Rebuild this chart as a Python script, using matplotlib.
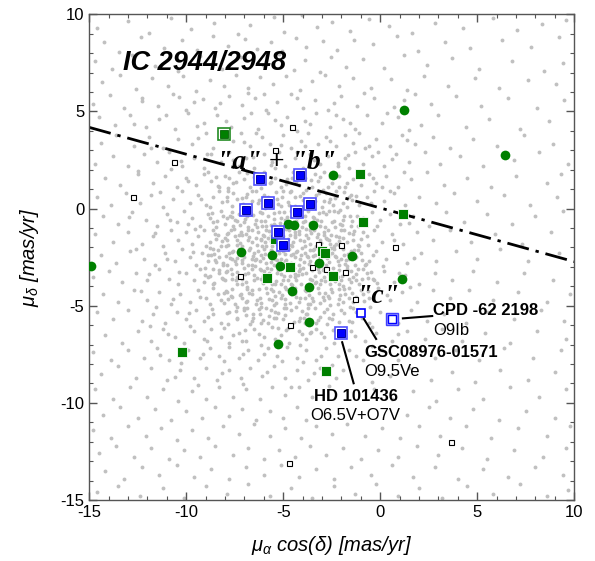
import matplotlib
matplotlib.use("Agg")
import matplotlib.pyplot as plt
from matplotlib.ticker import MultipleLocator

plt.rcParams['font.family'] = ['Liberation Sans', 'DejaVu Sans']
plt.rcParams['axes.unicode_minus'] = False
plt.rcParams['mathtext.fontset'] = 'custom'
plt.rcParams['mathtext.rm'] = 'Liberation Sans'
plt.rcParams['mathtext.it'] = 'Liberation Sans:italic'

# field stars (grey dots)
gray_halo = [
    (-14.6,9.3),(-13.0,9.65),(-11.9,9.05),(-10.8,9.8),(-9.75,9.25),(-8.55,9.55),(-7.35,9.0),(-6.7,9.45),(-5.45,9.85),(-4.95,9.1),(-4.05,9.95),(-3.25,9.35),(-2.5,9.6),(-1.55,9.15),(-0.6,9.75),(0.45,9.4),(1.65,9.05),(2.85,9.55),(4.25,9.3),(5.8,9.8),(7.05,9.2),(8.35,9.5),(9.6,9.7),
    (-14.25,8.6),(-13.45,8.05),(-12.35,8.85),(-11.15,8.25),(-10.2,8.7),(-9.45,8.15),(-8.6,8.9),(-7.85,8.35),(-6.95,8.75),(-6.35,8.2),(-5.65,8.6),(-5.05,8.1),(-4.35,8.8),(-3.85,8.3),(-2.95,8.65),(-2.25,8.15),(-1.35,8.7),(-0.35,8.45),(0.85,8.9),(1.95,8.1),(3.35,8.6),(4.65,8.25),(6.3,8.7),(7.75,8.3),(9.2,8.85),
    (-14.7,7.6),(-13.85,7.2),(-12.8,7.9),(-11.6,7.35),(-10.45,7.1),(-9.3,7.85),(-8.15,7.2),(-7.2,7.8),(-6.05,7.4),(-5.2,7.95),(-4.45,7.15),(-3.9,7.65),(-3.1,7.05),(-2.55,7.8),(-1.75,7.3),(-0.9,7.7),(0.2,7.25),(1.25,7.9),(2.4,7.4),(3.7,7.75),(5.1,7.2),(6.8,7.6),(8.45,7.1),(9.4,7.5),
    (-14.35,6.5),(-13.4,6.9),(-12.6,6.15),(-11.75,6.7),(-10.95,6.3),(-10.15,6.85),(-9.5,6.05),(-8.8,6.6),(-8.05,6.3),(-7.45,6.9),(-6.8,6.2),(-6.2,6.75),(-5.55,6.4),(-4.85,6.8),(-4.15,6.1),(-3.5,6.55),(-2.85,6.9),(-2.1,6.3),(-1.4,6.7),(-0.5,6.2),(0.55,6.65),(1.4,6.1),(2.25,6.8),(3.5,6.3),(4.9,6.7),(6.1,6.2),(7.6,6.6),(9.05,6.4),
    (-14.8,5.4),(-13.95,5.85),(-13.2,5.2),(-12.3,5.7),(-11.45,5.3),(-10.7,5.9),(-10.0,5.1),(-9.6,5.5),(-9.15,5.65),(-8.5,5.2),(-7.8,5.8),(-7.1,5.35),(-6.45,5.7),(-6.0,5.9),(-5.9,5.1),(-5.3,5.5),(-4.6,5.9),(-4.0,5.2),(-3.35,5.6),(-2.7,5.1),(-2.0,5.8),(-1.2,5.3),(-0.3,5.7),(0.7,5.25),(1.8,5.9),(2.6,5.4),(3.9,5.8),(5.2,5.3),(6.6,5.7),(8.1,5.2),(9.5,5.6),
    (-14.5,4.7),(-13.65,4.3),(-12.9,4.8),(-12.1,4.2),(-11.4,4.6),(-10.6,4.1),(-9.9,4.9),(-9.1,4.4),(-8.4,4.8),(-7.7,4.2),(-7.0,4.65),(-6.3,4.1),(-5.8,4.9),(-5.1,4.3),(-4.8,4.7),(-4.3,4.0),(-3.9,4.5),(-3.3,4.9),(-2.6,4.2),(-2.3,4.8),(-1.9,4.6),(-1.3,4.1),(-0.7,4.8),(0.1,4.4),(0.9,4.7),(2.1,4.3),(3.0,4.8),(4.4,4.2),(5.6,4.6),(7.2,4.1),(8.7,4.5),
    (-14.4,3.4),(-13.6,3.8),(-12.7,3.2),(-11.9,3.7),(-11.2,3.1),(-10.4,3.6),(-9.7,3.3),(-9.0,3.9),(-8.6,3.1),(-7.6,3.5),(-7.2,3.9),(-6.7,3.2),(-6.4,3.9),(-6.1,3.7),(-5.7,3.3),(-5.0,3.8),(-4.6,3.1),(-4.1,3.5),(-3.9,3.2),(-3.7,3.9),(-3.2,3.3),(-2.8,3.7),(-2.3,3.2),(-1.8,3.8),(-1.4,3.4),(-1.1,3.9),(-0.8,3.1),(-0.2,3.6),(0.5,3.2),(1.1,3.8),(1.8,3.3),(2.7,3.7),(3.6,3.1),(4.8,3.6),(6.0,3.2),(7.4,3.8),(8.9,3.3),
    (-14.7,2.3),(-13.8,2.7),(-13.0,2.2),(-12.2,2.8),(-11.5,2.4),(-10.9,2.9),(-10.2,2.2),(-9.6,2.6),(-9.1,2.1),(-8.7,2.8),(-8.2,2.4),(-7.8,2.9),(-7.6,2.5),(-7.3,2.2),(-6.9,2.6),(-6.5,2.1),(-6.0,2.8),(-5.6,2.4),(-5.4,2.1),(-5.2,2.9),(-4.9,2.2),(-4.4,2.6),(-4.0,2.1),(-3.6,2.8),(-3.4,2.5),(-3.1,2.3),(-2.7,2.7),(-2.2,2.2),(-1.8,2.6),(-1.6,2.1),(-1.3,2.9),(-0.9,2.3),(-0.4,2.7),(-0.1,2.9),(0.2,2.2),(0.8,2.8),(1.5,2.4),(2.3,2.9),(3.1,2.3),(4.1,2.7),(5.3,2.2),(6.9,2.5),(8.2,2.9),(9.7,2.3),
    (-14.2,1.6),(-13.4,1.2),(-12.5,1.8),(-11.7,1.3),(-11.1,1.7),(-10.5,1.1),(-10.0,1.6),(-9.5,1.2),(-9.1,1.8),(-8.9,1.9),(-8.7,1.4),(-8.3,1.1),(-8.0,1.7),(-7.8,1.6),(-7.6,1.3),(-7.3,1.9),(-7.0,1.5),(-6.7,1.1),(-6.4,1.7),(-6.2,1.3),(-6.0,1.9),(-5.7,1.3),(-5.4,1.6),(-5.1,1.1),(-4.8,1.5),(-4.5,1.9),(-4.2,1.2),(-4.0,1.9),(-3.9,1.6),(-3.5,1.1),(-3.2,1.4),(-2.9,1.9),(-2.7,1.1),(-2.5,1.3),(-2.1,1.7),(-1.8,1.1),(-1.4,1.5),(-1.2,1.9),(-1.0,1.2),(-0.6,1.8),(-0.2,1.3),(0.1,1.1),(0.3,1.7),(0.9,1.1),(1.6,1.5),(2.4,1.9),(3.3,1.2),(4.5,1.6),(5.7,1.1),(7.0,1.7),(8.6,1.3),(9.3,1.8),
    (-14.6,0.6),(-13.9,0.2),(-13.1,0.8),(-12.4,0.3),(-11.8,0.7),(-11.2,0.1),(-10.7,0.5),(-10.2,0.9),(-9.8,0.3),(-9.4,0.7),(-9.0,0.2),(-8.8,0.1),(-8.6,0.6),(-8.3,0.9),(-7.9,0.4),(-7.6,0.8),(-7.4,0.5),(-7.2,0.2),(-6.9,0.6),(-6.6,0.9),(-6.3,0.3),(-6.0,0.7),(-5.8,0.4),(-5.6,0.1),(-5.3,0.5),(-5.0,0.9),(-4.7,0.2),(-4.4,0.6),(-4.2,0.1),(-4.0,0.8),(-3.7,0.3),(-3.3,0.7),(-3.0,0.1),(-2.8,0.8),(-2.6,0.5),(-2.3,0.9),(-1.9,0.3),(-1.7,0.1),(-1.5,0.7),(-1.1,0.2),(-0.7,0.6),(-0.5,0.3),(-0.3,0.9),(0.2,0.4),(0.7,0.8),(1.3,0.2),(2.0,0.6),(2.9,0.3),(3.8,0.8),(5.0,0.4),(6.4,0.7),(7.7,0.2),(9.1,0.6),
    (-14.3,-0.4),(-13.5,-0.8),(-12.8,-0.2),(-12.1,-0.6),(-11.5,-0.9),(-11.0,-0.3),(-10.5,-0.7),(-10.1,-0.1),(-9.9,-0.8),(-9.7,-0.5),(-9.3,-0.9),(-8.9,-0.3),(-8.6,-0.7),(-8.2,-0.1),(-8.0,-0.8),(-7.9,-0.5),(-7.6,-0.9),(-7.5,-0.6),(-7.3,-0.3),(-7.0,-0.7),(-6.9,-0.1),(-6.7,-0.2),(-6.4,-0.6),(-6.2,-0.2),(-6.1,-0.9),(-5.8,-0.4),(-5.5,-0.8),(-5.2,-0.2),(-5.1,-0.5),(-4.9,-0.6),(-4.6,-0.9),(-4.3,-0.3),(-4.0,-0.7),(-3.9,-0.4),(-3.7,-0.1),(-3.4,-0.5),(-3.1,-0.9),(-2.8,-0.3),(-2.5,-0.7),(-2.4,-0.1),(-2.2,-0.2),(-1.9,-0.6),(-1.5,-0.9),(-1.2,-0.4),(-0.9,-0.5),(-0.8,-0.8),(-0.4,-0.2),(0.0,-0.6),(0.5,-0.3),(1.0,-0.8),(1.7,-0.4),(2.5,-0.9),(3.4,-0.2),(4.3,-0.7),(5.5,-0.3),(6.8,-0.8),(8.0,-0.4),(9.4,-0.1),
    (-14.7,-1.3),(-13.8,-1.7),(-13.0,-1.2),(-12.3,-1.8),(-11.7,-1.4),(-11.2,-1.9),(-10.8,-1.1),(-10.4,-1.6),(-10.0,-1.2),(-9.7,-1.8),(-9.4,-1.4),(-9.1,-1.1),(-9.0,-1.9),(-8.8,-1.7),(-8.5,-1.3),(-8.2,-1.9),(-8.0,-1.5),(-7.9,-1.3),(-7.7,-1.1),(-7.5,-1.4),(-7.4,-1.6),(-7.1,-1.9),(-6.9,-1.3),(-6.8,-1.1),(-6.6,-1.7),(-6.4,-1.5),(-6.3,-1.2),(-6.1,-1.9),(-6.0,-1.4),(-5.8,-1.5),(-5.6,-1.9),(-5.5,-1.1),(-5.3,-1.8),(-5.0,-1.4),(-4.9,-1.9),(-4.7,-1.1),(-4.5,-1.7),(-4.4,-1.2),(-4.2,-1.3),(-3.9,-1.9),(-3.7,-1.5),(-3.6,-1.8),(-3.4,-1.1),(-3.2,-1.3),(-3.1,-1.6),(-2.9,-1.2),(-2.7,-1.1),(-2.6,-1.8),(-2.4,-1.9),(-2.3,-1.4),(-2.0,-1.1),(-1.9,-1.5),(-1.7,-1.7),(-1.4,-1.3),(-1.1,-1.9),(-0.9,-1.2),(-0.7,-1.4),(-0.3,-1.1),(0.1,-1.7),(0.6,-1.3),(1.2,-1.8),(1.9,-1.2),(2.7,-1.6),(3.6,-1.1),(4.7,-1.7),(5.9,-1.3),(7.3,-1.8),(8.8,-1.2),
    (-14.4,-2.4),(-13.6,-2.8),(-12.9,-2.2),(-12.2,-2.6),(-11.6,-2.9),(-11.1,-2.3),(-10.6,-2.7),(-10.2,-2.1),(-9.8,-2.5),(-9.5,-2.9),(-9.2,-2.3),(-8.9,-2.7),(-8.7,-2.4),(-8.6,-2.1),(-8.3,-2.5),(-8.1,-2.9),(-7.8,-2.3),(-7.6,-2.2),(-7.5,-2.7),(-7.3,-2.1),(-7.1,-2.8),(-7.0,-2.5),(-6.8,-2.9),(-6.6,-2.6),(-6.5,-2.3),(-6.3,-2.2),(-6.2,-2.7),(-6.0,-2.1),(-5.9,-2.8),(-5.7,-2.5),(-5.5,-2.9),(-5.4,-2.6),(-5.2,-2.3),(-5.0,-2.2),(-4.9,-2.7),(-4.7,-2.1),(-4.6,-2.8),(-4.4,-2.5),(-4.3,-2.2),(-4.2,-2.9),(-3.9,-2.3),(-3.7,-2.5),(-3.6,-2.7),(-3.4,-2.1),(-3.3,-2.8),(-3.1,-2.5),(-3.0,-2.2),(-2.8,-2.9),(-2.5,-2.3),(-2.3,-2.5),(-2.2,-2.7),(-2.0,-2.6),(-1.9,-2.1),(-1.6,-2.5),(-1.5,-2.2),(-1.3,-2.9),(-1.0,-2.3),(-0.8,-2.9),(-0.6,-2.7),(-0.2,-2.2),(0.3,-2.6),(0.8,-2.1),(1.4,-2.8),(2.1,-2.3),(2.9,-2.7),(3.9,-2.2),(5.0,-2.6),(6.2,-2.1),(7.6,-2.7),(9.2,-2.3),
    (-14.8,-3.5),(-14.0,-3.2),(-13.3,-3.8),(-12.6,-3.3),(-12.0,-3.7),(-11.4,-3.1),(-10.9,-3.6),(-10.4,-3.9),(-10.0,-3.3),(-9.6,-3.7),(-9.3,-3.1),(-9.1,-3.8),(-8.9,-3.5),(-8.6,-3.9),(-8.3,-3.3),(-8.0,-3.7),(-7.9,-3.2),(-7.7,-3.1),(-7.4,-3.5),(-7.1,-3.9),(-6.9,-3.8),(-6.8,-3.3),(-6.5,-3.7),(-6.2,-3.1),(-6.0,-3.2),(-5.9,-3.5),(-5.6,-3.9),(-5.3,-3.3),(-5.1,-3.9),(-5.0,-3.7),(-4.7,-3.1),(-4.4,-3.5),(-4.2,-3.2),(-4.1,-3.9),(-3.8,-3.3),(-3.5,-3.7),(-3.3,-3.8),(-3.2,-3.1),(-2.9,-3.5),(-2.6,-3.9),(-2.4,-3.6),(-2.3,-3.3),(-2.0,-3.7),(-1.7,-3.1),(-1.5,-3.8),(-1.4,-3.5),(-1.1,-3.9),(-0.9,-3.1),(-0.7,-3.3),(-0.3,-3.7),(0.2,-3.2),(0.7,-3.8),(1.3,-3.4),(2.0,-3.9),(2.8,-3.3),(3.7,-3.7),(4.8,-3.2),(6.0,-3.8),(7.4,-3.3),(8.9,-3.7),
    (-14.3,-4.4),(-13.5,-4.8),(-12.7,-4.2),(-12.0,-4.7),(-11.4,-4.3),(-10.8,-4.9),(-10.3,-4.4),(-9.8,-4.8),(-9.4,-4.2),(-9.0,-4.6),(-8.8,-4.9),(-8.6,-4.1),(-8.2,-4.7),(-7.9,-4.3),(-7.7,-4.5),(-7.5,-4.9),(-7.2,-4.4),(-6.9,-4.8),(-6.6,-4.2),(-6.4,-4.9),(-6.2,-4.6),(-5.9,-4.1),(-5.6,-4.7),(-5.4,-4.5),(-5.2,-4.3),(-4.9,-4.9),(-4.6,-4.4),(-4.4,-4.1),(-4.2,-4.8),(-3.9,-4.2),(-3.7,-4.9),(-3.5,-4.6),(-3.2,-4.1),(-2.9,-4.7),(-2.7,-4.5),(-2.5,-4.3),(-2.2,-4.9),(-1.8,-4.4),(-1.6,-4.1),(-1.4,-4.8),(-1.0,-4.2),(-0.6,-4.6),(-0.1,-4.1),(0.5,-4.7),(1.1,-4.3),(1.9,-4.8),(2.7,-4.2),(3.6,-4.6),(4.6,-4.2),(5.8,-4.7),(7.1,-4.3),(8.6,-4.8),(9.8,-4.4),
    (-14.6,-5.3),(-13.8,-5.7),(-13.0,-5.2),(-12.3,-5.8),(-11.7,-5.4),(-11.1,-5.9),(-10.5,-5.3),(-10.0,-5.7),(-9.5,-5.2),(-9.1,-5.8),(-8.9,-5.6),(-8.6,-5.4),(-8.2,-5.9),(-7.8,-5.3),(-7.4,-5.7),(-7.0,-5.2),(-6.9,-5.5),(-6.6,-5.8),(-6.2,-5.4),(-5.8,-5.9),(-5.4,-5.3),(-5.0,-5.7),(-4.9,-5.5),(-4.6,-5.2),(-4.2,-5.8),(-3.8,-5.4),(-3.3,-5.9),(-3.1,-5.6),(-2.9,-5.3),(-2.5,-5.7),(-2.0,-5.2),(-1.6,-5.8),(-1.4,-5.1),(-1.1,-5.4),(-0.6,-5.9),(0.0,-5.3),(0.9,-5.9),(1.6,-5.2),(2.4,-5.8),(3.3,-5.4),(4.4,-5.9),(5.5,-5.3),(6.9,-5.7),(8.3,-5.2),(9.5,-5.8),
    (-14.2,-6.5),(-13.3,-6.9),(-12.5,-6.3),(-11.8,-6.8),(-11.2,-6.2),(-10.6,-6.6),(-10.1,-6.9),(-9.6,-6.3),(-9.1,-6.7),(-8.7,-6.2),(-8.2,-6.6),(-7.8,-6.9),(-7.6,-6.5),(-7.3,-6.4),(-6.9,-6.8),(-6.5,-6.2),(-6.0,-6.6),(-5.6,-6.1),(-5.4,-6.7),(-5.1,-6.5),(-4.7,-6.9),(-4.2,-6.3),(-3.8,-6.7),(-3.6,-6.4),(-3.3,-6.2),(-2.9,-6.6),(-2.4,-6.9),(-1.5,-6.3),(-0.8,-6.8),(-0.2,-6.4),(0.6,-6.8),(1.4,-6.3),(2.3,-6.7),(3.2,-6.2),(4.2,-6.8),(5.4,-6.4),(6.7,-6.9),(8.1,-6.3),(9.6,-6.7),
    (-14.8,-7.4),(-13.9,-7.8),(-13.0,-7.3),(-12.2,-7.7),(-11.5,-7.2),(-10.9,-7.8),(-9.9,-7.3),(-9.3,-7.7),(-8.8,-7.2),(-8.3,-7.6),(-7.8,-7.1),(-7.3,-7.7),(-6.8,-7.3),(-6.3,-7.8),(-6.0,-7.5),(-5.8,-7.2),(-5.3,-7.6),(-4.8,-7.1),(-4.3,-7.7),(-4.0,-7.9),(-3.8,-7.3),(-3.3,-7.8),(-2.8,-7.2),(-2.2,-7.6),(-1.6,-7.3),(-0.9,-7.8),(0.1,-7.3),(0.9,-7.8),(1.8,-7.2),(2.8,-7.7),(3.9,-7.3),(5.1,-7.8),(6.4,-7.2),(7.9,-7.7),(9.3,-7.3),
    (-14.4,-8.5),(-13.5,-8.1),(-12.6,-8.7),(-11.8,-8.2),(-11.0,-8.8),(-10.3,-8.3),(-9.6,-8.7),(-9.0,-8.2),(-8.4,-8.8),(-7.8,-8.3),(-7.2,-8.7),(-6.7,-8.2),(-6.1,-8.6),(-5.5,-8.1),(-4.9,-8.7),(-4.3,-8.3),(-3.7,-8.8),(-3.1,-8.2),(-2.3,-8.7),(-1.9,-8.3),(-0.4,-8.9),(0.5,-8.6),(1.5,-8.2),(2.6,-8.8),(3.7,-8.4),(4.9,-8.9),(6.2,-8.3),(7.6,-8.8),(9.0,-8.4),
    (-14.7,-9.3),(-13.8,-9.8),(-12.9,-9.2),(-12.0,-9.7),(-11.2,-9.3),(-10.4,-9.9),(-9.7,-9.4),(-9.0,-9.8),(-8.3,-9.2),(-7.6,-9.7),(-6.9,-9.3),(-6.2,-9.8),(-5.6,-9.2),(-4.9,-9.6),(-4.2,-9.2),(-3.5,-9.7),(-0.3,-9.3),(0.6,-9.8),(1.7,-9.4),(2.9,-9.9),(4.0,-9.3),(5.3,-9.8),(6.7,-9.2),(8.2,-9.7),(9.6,-9.3),
    (-14.3,-10.6),(-13.4,-10.2),(-12.5,-10.8),(-11.6,-10.3),(-10.8,-10.9),(-10.0,-10.4),(-9.2,-10.8),(-8.5,-10.2),(-7.8,-10.7),(-7.1,-10.3),(-6.4,-10.9),(-5.7,-10.4),(-5.0,-10.8),(-4.3,-10.2),(-3.8,-10.9),(1.4,-10.6),(2.5,-10.2),(3.6,-10.8),(4.8,-10.3),(6.1,-10.9),(7.5,-10.4),(9.0,-10.8),
    (-14.8,-11.4),(-13.9,-11.8),(-13.0,-11.2),(-12.1,-11.7),(-11.3,-11.3),(-10.5,-11.9),(-9.7,-11.4),(-8.9,-11.8),(-8.1,-11.2),(-7.3,-11.6),(-6.5,-11.1),(-5.7,-11.7),(-4.9,-11.3),(-4.1,-11.8),(-3.3,-11.2),(-2.5,-11.6),(-1.7,-11.1),(-0.8,-11.7),(0.1,-11.3),(1.0,-11.8),(2.0,-11.2),(3.1,-11.7),(4.4,-11.2),(5.7,-11.8),(7.1,-11.3),(8.6,-11.7),(9.8,-11.2),
    (-14.5,-12.6),(-13.6,-12.2),(-12.7,-12.8),(-11.8,-12.3),(-10.9,-12.9),(-10.1,-12.4),(-9.3,-12.8),(-8.5,-12.2),(-7.6,-12.7),(-6.8,-12.3),(-6.0,-12.9),(-5.2,-12.4),(-4.4,-12.8),(-3.6,-12.2),(-2.8,-12.7),(-1.9,-12.3),(-1.0,-12.9),(-0.1,-12.4),(0.9,-12.8),(1.9,-12.2),(3.0,-12.7),(4.2,-12.3),(5.5,-12.9),(6.9,-12.4),(8.4,-12.8),(9.6,-12.3),
    (-14.2,-13.5),(-13.2,-13.9),(-12.3,-13.3),(-11.4,-13.7),(-10.5,-13.2),(-9.6,-13.8),(-8.7,-13.4),(-7.8,-13.9),(-6.9,-13.3),(-6.0,-13.7),(-5.1,-13.2),(-4.2,-13.8),(-3.3,-13.4),(-2.4,-13.9),(-1.5,-13.3),(-0.5,-13.7),(0.6,-13.2),(1.7,-13.8),(2.8,-13.3),(4.0,-13.9),(5.3,-13.4),(6.6,-13.8),(8.0,-13.3),(9.4,-13.7),
    (-14.6,-14.6),(-13.5,-14.3),(-12.4,-14.8),(-11.2,-14.4),(-10.1,-14.9),(-9.0,-14.3),(-7.9,-14.7),(-6.8,-14.2),(-5.7,-14.8),(-4.6,-14.4),(-3.5,-14.9),(-2.4,-14.3),(-1.3,-14.7),(-0.2,-14.2),(0.9,-14.8),(2.0,-14.4),(3.2,-14.9),(4.5,-14.3),(5.8,-14.7),(7.2,-14.2),(8.6,-14.8),(9.7,-14.5),
]

gray_mid = [
    (-11.83,3.12),(-10.27,2.47),(-9.38,3.64),(-8.92,2.83),(-7.04,3.41),(-6.58,2.68),(-5.12,3.27),(-4.27,2.93),(-2.58,3.46),(-1.66,2.74),(-0.57,3.21),(0.63,2.56),(1.37,3.52),
    (-12.48,1.93),(-11.36,0.86),(-10.78,2.03),(-9.93,1.41),(-9.24,0.47),(-8.47,1.62),(-7.86,0.93),(-6.87,1.84),(-5.63,2.26),(-4.66,0.83),(-3.34,1.77),(-2.18,2.36),(-1.26,0.67),(-0.38,1.58),(0.48,0.93),(1.23,1.87),
    (-12.96,-0.43),(-11.63,-1.27),(-10.84,-0.58),(-9.57,-1.06),(-8.77,-0.46),(-8.36,-1.38),(-7.74,-0.37),(-7.18,-1.18),(-6.47,-0.78),(-5.92,-0.63),(-5.34,-1.43),(-4.53,-0.36),(-3.82,-1.07),(-3.27,-0.58),(-2.73,-1.56),(-2.07,-0.77),(-1.58,-0.36),(-0.97,-1.58),(-0.18,-0.92),(0.72,-1.63),(1.48,-0.72),
    (-12.57,-2.07),(-11.93,-3.36),(-10.98,-2.58),(-10.36,-3.27),(-9.66,-2.23),(-9.03,-3.42),(-8.52,-2.63),(-7.93,-1.93),(-7.38,-3.27),(-6.72,-2.04),(-6.17,-3.16),(-5.58,-2.18),(-4.98,-3.47),(-4.52,-2.33),(-3.96,-3.08),(-3.48,-2.46),(-2.93,-3.18),(-2.38,-2.07),(-1.82,-2.83),(-1.27,-2.47),(-0.63,-3.58),(0.14,-2.93),(0.96,-3.32),(1.72,-2.54),
    (-12.34,-4.26),(-11.56,-5.07),(-10.68,-4.63),(-9.87,-5.36),(-9.28,-4.53),(-8.67,-5.17),(-8.06,-4.37),(-7.36,-5.06),(-6.77,-4.36),(-6.14,-5.04),(-5.53,-4.23),(-4.94,-5.14),(-4.38,-4.33),(-3.72,-5.12),(-3.13,-4.32),(-2.58,-4.98),(-1.93,-3.96),(-1.27,-4.56),(-0.52,-5.07),(0.36,-4.43),(1.53,-4.04),
    (-11.87,-6.06),(-10.92,-6.47),(-9.83,-6.04),(-8.94,-6.84),(-8.04,-6.14),(-7.13,-6.83),(-6.27,-6.47),(-5.47,-5.64),(-4.86,-6.27),(-3.93,-5.62),(-3.07,-6.38),(-2.12,-5.82),(-1.28,-6.57),(-0.42,-6.07),(0.94,-6.47),
    (-11.36,-7.53),(-10.27,-7.96),(-9.14,-7.47),(-8.06,-7.87),(-7.07,-7.46),(-6.17,-7.04),(-5.07,-7.86),(-4.16,-7.03),(-3.07,-7.57),(-2.47,-8.07),(-1.27,-7.57),(-0.43,-7.06),
    (-10.56,-8.66),(-9.38,-9.07),(-8.16,-8.47),(-7.06,-9.03),(-5.86,-8.43),(-4.62,-9.16),(-3.42,-8.47),(-2.63,-9.13),
    (-12.67,4.37),(-11.06,4.84),(-9.47,4.27),(-7.93,4.53),(-6.66,4.93),(-5.43,4.56),(-3.62,4.37),(-1.57,4.43),(0.36,4.93),(1.47,4.06),
    (-12.26,5.53),(-10.38,5.73),(-8.24,5.46),(-6.82,5.93),(-4.27,5.67),(-2.37,5.46),(-0.84,5.93),(1.23,5.57),
]

gray_core = [
    (-7.45,1.35),(-6.85,0.75),(-6.15,1.05),(-5.35,0.85),(-4.85,1.25),(-4.15,0.65),(-3.55,1.45),(-2.95,0.95),(-2.35,0.55),(-5.95,0.45),(-4.55,1.55),(-3.85,0.95),(-7.15,0.55),(-8.35,1.15),(-1.85,0.85),
    (-8.15,0.35),(-7.65,-0.15),(-7.05,0.25),(-6.55,-0.35),(-5.95,0.05),(-5.45,-0.25),(-4.75,0.35),(-4.25,-0.45),(-3.65,0.15),(-3.15,-0.25),(-2.65,0.35),(-2.05,-0.05),(-1.45,0.45),(-6.25,0.45),(-4.95,-0.15),(-3.45,-0.45),(-8.65,-0.25),(-5.25,0.25),
    (-8.45,-0.95),(-7.85,-1.25),(-7.25,-0.85),(-6.75,-1.45),(-6.35,-0.95),(-5.75,-1.15),(-5.15,-0.75),(-4.65,-1.35),(-4.05,-0.95),(-3.55,-1.25),(-3.05,-0.65),(-2.55,-1.35),(-1.95,-0.85),(-1.35,-1.15),(-6.95,-0.55),(-5.45,-0.55),(-4.35,-0.65),(-3.25,-1.45),(-2.15,-1.45),(-7.55,-1.05),(-6.05,-1.35),(-4.85,-1.05),(-2.85,-0.95),
    (-8.75,-2.05),(-8.15,-1.65),(-7.65,-2.25),(-7.25,-1.75),(-6.75,-2.15),(-6.35,-1.85),(-5.95,-2.35),(-5.65,-1.65),(-5.15,-2.05),(-4.75,-1.55),(-4.35,-2.25),(-3.95,-1.65),(-3.45,-2.15),(-3.05,-1.75),(-2.55,-2.05),(-2.15,-1.65),(-1.65,-2.35),(-1.15,-1.85),(-7.95,-2.45),(-7.05,-2.35),(-6.15,-1.55),(-5.45,-2.45),(-4.55,-1.95),(-3.75,-2.45),(-2.85,-2.35),(-1.95,-1.95),(-8.45,-1.55),(-6.55,-2.45),(-4.05,-2.05),(-2.35,-2.45),
    (-9.05,-3.05),(-8.45,-2.75),(-7.95,-3.25),(-7.45,-2.85),(-6.95,-3.35),(-6.45,-2.95),(-6.05,-3.45),(-5.65,-2.75),(-5.25,-3.15),(-4.85,-2.65),(-4.45,-3.05),(-4.05,-3.35),(-3.65,-2.85),(-3.15,-3.25),(-2.65,-2.75),(-2.15,-3.15),(-1.75,-2.65),(-1.25,-3.35),(-0.75,-2.85),(-8.75,-3.45),(-7.15,-2.65),(-5.85,-3.05),(-4.65,-3.45),(-3.35,-3.45),(-1.95,-3.45),(-0.45,-3.25),(-7.75,-2.55),(-5.05,-2.95),(-2.45,-3.05),
    (-8.55,-3.85),(-7.95,-4.25),(-7.45,-3.65),(-6.85,-4.05),(-6.35,-3.55),(-5.85,-4.35),(-5.35,-3.75),(-4.85,-4.15),(-4.35,-3.65),(-3.85,-4.25),(-3.35,-3.85),(-2.85,-4.35),(-2.35,-3.75),(-1.85,-4.15),(-1.25,-3.65),(-0.65,-4.25),(-7.25,-4.45),(-6.05,-3.85),(-5.05,-4.45),(-4.55,-3.95),(-3.05,-3.65),(-2.05,-4.45),(-8.15,-3.55),(-0.15,-3.85),
    (-8.05,-4.85),(-7.45,-5.25),(-6.85,-4.75),(-6.25,-5.15),(-5.75,-4.65),(-5.25,-5.35),(-4.65,-4.85),(-4.05,-5.25),(-3.45,-4.75),(-2.75,-5.15),(-2.15,-4.65),(-1.55,-5.05),(-0.85,-4.75),(-7.65,-4.55),(-6.55,-5.45),(-5.45,-4.95),(-3.75,-5.45),(-2.45,-5.45),(-4.35,-4.55),
    (-7.85,-5.95),(-6.95,-6.25),(-6.05,-5.75),(-5.25,-6.15),(-4.45,-5.85),(-3.55,-6.35),(-2.75,-5.95),(-1.85,-6.15),(-0.95,-5.65),(-6.55,-5.65),(-4.05,-6.45),(-2.25,-6.45),
    (-7.83,1.08),(-6.53,1.63),(-5.77,0.58),(-4.33,1.38),(-3.17,0.82),(-2.57,1.63),(-6.92,0.13),(-5.08,0.62),(-3.96,0.44),(-2.44,0.18),(-1.73,1.32),
    (-8.43,-0.63),(-7.63,-0.43),(-6.83,-0.93),(-6.08,-0.23),(-5.63,-0.83),(-4.83,-0.43),(-4.18,-1.13),(-3.63,-0.73),(-2.93,-0.16),(-2.33,-0.93),(-1.63,-1.28),(-7.28,-1.37),(-5.92,-1.72),(-4.93,-1.63),(-3.83,-1.38),(-2.77,-1.53),(-1.43,-0.63),
    (-8.57,-2.33),(-7.87,-1.87),(-7.37,-2.53),(-6.83,-1.63),(-6.43,-2.63),(-5.87,-1.93),(-5.33,-2.63),(-4.93,-2.36),(-4.37,-1.48),(-3.93,-2.73),(-3.33,-1.93),(-2.73,-2.52),(-2.27,-1.83),(-1.73,-2.93),(-1.33,-2.13),(-0.93,-2.63),(-8.13,-2.82),(-6.03,-2.53),(-4.07,-2.37),(-3.07,-2.93),
    (-8.33,-3.17),(-7.63,-3.63),(-7.03,-3.07),(-6.53,-3.43),(-5.73,-3.33),(-5.43,-3.87),(-4.73,-3.67),(-4.23,-3.43),(-3.53,-3.17),(-2.83,-3.73),(-2.17,-3.53),(-1.53,-3.23),(-0.93,-3.63),(-6.23,-4.13),(-4.93,-4.03),(-3.67,-4.43),(-2.53,-4.13),(-1.43,-4.33),
    (-7.83,-4.63),(-7.03,-5.13),(-6.33,-4.73),(-5.63,-5.23),(-4.93,-4.63),(-4.33,-5.07),(-3.63,-4.93),(-2.93,-4.53),(-1.93,-4.83),(-1.23,-5.33),(-6.73,-5.93),(-5.73,-5.53),(-4.73,-6.13),(-3.23,-5.73),(-2.43,-6.23),(-1.43,-5.83),
    (-7.62,0.12),(-6.38,0.88),(-5.12,0.12),(-4.62,0.88),(-3.38,0.38),(-2.12,1.12),(-1.62,0.62),(-7.88,0.62),(-6.62,0.38),(-5.62,1.38),(-4.38,0.12),(-3.12,1.62),(-2.88,0.38),
    (-8.12,-0.38),(-7.38,-0.62),(-6.88,-0.38),(-6.12,-0.62),(-5.38,-0.88),(-4.62,-0.12),(-4.12,-0.38),(-3.38,-0.88),(-2.62,-0.12),(-1.88,-0.38),(-1.12,-0.88),(-7.12,-0.12),(-5.88,-0.88),(-3.88,-0.62),(-2.38,-0.62),
    (-8.62,-1.12),(-7.88,-1.62),(-7.12,-1.38),(-6.62,-1.12),(-6.12,-1.62),(-5.62,-1.38),(-5.12,-1.62),(-4.62,-1.88),(-4.12,-1.62),(-3.62,-1.12),(-3.12,-1.88),(-2.62,-1.62),(-1.88,-1.12),(-1.38,-1.62),(-0.62,-1.88),(-7.38,-1.88),(-5.88,-1.12),(-4.38,-1.38),(-2.88,-1.38),(-2.12,-1.88),
    (-8.88,-2.38),(-8.38,-2.12),(-7.62,-2.62),(-7.12,-2.12),(-6.62,-2.88),(-6.12,-2.38),(-5.62,-2.12),(-5.12,-2.62),(-4.62,-2.38),(-4.12,-2.62),(-3.62,-2.12),(-3.12,-2.62),(-2.62,-2.38),(-2.12,-2.88),(-1.62,-2.62),(-1.12,-2.12),(-0.38,-2.38),(-7.88,-2.88),(-6.38,-2.62),(-4.88,-2.88),(-3.38,-2.38),(-1.88,-2.38),
    (-8.62,-3.12),(-8.12,-3.62),(-7.62,-3.38),(-7.12,-3.62),(-6.62,-3.12),(-6.12,-3.62),(-5.62,-3.12),(-5.12,-3.38),(-4.62,-3.88),(-4.12,-3.12),(-3.62,-3.62),(-3.12,-3.88),(-2.62,-3.38),(-2.12,-3.88),(-1.62,-3.62),(-1.12,-3.12),(-0.38,-3.62),(-7.38,-3.88),(-5.88,-3.62),(-4.38,-3.38),(-2.88,-3.12),
    (-8.38,-4.38),(-7.62,-4.12),(-7.12,-4.62),(-6.62,-4.38),(-6.12,-4.88),(-5.62,-4.12),(-5.12,-4.62),(-4.62,-4.12),(-4.12,-4.62),(-3.62,-4.12),(-3.12,-4.88),(-2.62,-4.62),(-2.12,-4.12),(-1.62,-4.62),(-0.88,-4.38),(-6.88,-4.12),(-5.38,-4.88),(-3.88,-4.62),
    (-7.38,-5.62),(-6.88,-5.12),(-6.12,-5.88),(-5.38,-5.62),(-4.88,-5.12),(-4.12,-5.62),(-3.38,-5.12),(-2.62,-5.62),(-1.88,-5.38),(-7.88,-5.38),(-5.88,-5.12),(-3.88,-5.88),
]

# cluster members
blue_x = [-6.20, -4.12, -5.80, -6.92, -4.31, -3.64, -5.29, -5.02, -2.01]
blue_y = [1.54, 1.71, 0.30, -0.07, -0.18, 0.22, -1.22, -1.87, -6.39]

gsq_x = [-5.43, -3.02, -2.85, -1.03, 1.17, -0.91, -4.64, -5.82, -2.42, -10.22, -2.81]
gsq_y = [-1.58, -2.18, -2.28, 1.80, -0.29, -0.69, -2.99, -3.59, -3.48, -7.38, -8.37]

gbig_x = [-8.04]
gbig_y = [3.82]

gc_x = [-2.43, -4.77, -4.46, -3.47, -7.16, -5.57, -5.17, -3.14, -1.46, -14.9, -4.57, -3.68, -3.68, -5.26, 1.13, 1.22, 6.43]
gc_y = [1.75, -0.78, -0.84, -0.84, -2.23, -2.40, -2.94, -2.81, -2.46, -2.95, -4.24, -4.05, -5.85, -6.95, -3.64, 5.06, 2.76]

ob_x = [-4.54, -5.43, -10.63, -12.73, -3.21, -3.54, -2.81, -7.23, -4.64, -4.72, -2.03, 0.76, -1.82, -1.32, 3.66]
ob_y = [4.22, 3.02, 2.41, 0.61, -1.81, -2.99, -3.09, -3.48, -6.01, -13.11, -1.87, -1.98, -3.28, -4.67, -12.0]

gsc_xy = (-1.01, -5.39)
cpd_xy = (0.59, -5.68)

# dividing line between groups
sep_x = [-15, 10]
sep_y = [4.18, -2.73]

fig = plt.figure(figsize=(5.95, 5.61), dpi=100)
ax = fig.add_axes([0.150, 0.1087, 0.815, 0.8658])

allgray = gray_halo + gray_mid + gray_core
gx = [p[0] for p in allgray]
gy = [p[1] for p in allgray]
ax.plot(gx, gy, 'o', ms=2.8, color='#c0c0c0', mew=0, zorder=1)

ax.plot(sep_x, sep_y, color='black', lw=2, dashes=(8, 2.5, 1.2, 2.5), zorder=2)

ax.plot(ob_x, ob_y, 's', ms=3.6, mfc='white', mec='black', mew=0.8, zorder=3)
ax.plot(gc_x, gc_y, 'o', ms=7, color='#008000', mew=0, zorder=4)
ax.plot(gsq_x, gsq_y, 's', ms=6.5, mfc='#008000', mec='white', mew=0.6, zorder=4)

ax.plot(gbig_x, gbig_y, 's', ms=9.3, mfc='white', mec='#228b22', mew=1.2, zorder=5)
ax.plot(gbig_x, gbig_y, 's', ms=6, mfc='#008000', mec='#006000', mew=0.6, zorder=6)

ax.plot(blue_x, blue_y, 's', ms=9.3, mfc='white', mec='#5050ff', mew=1.2, zorder=5)
ax.plot(blue_x, blue_y, 's', ms=6, mfc='#0000ff', mec='#0000a0', mew=0.7, zorder=6)

ax.plot(*cpd_xy, 's', ms=9.3, mfc='#a0a0ff', mec='#4040ff', mew=1.0, zorder=5)
ax.plot(*cpd_xy, 's', ms=5.5, mfc='white', mec='#0000ff', mew=1.0, zorder=6)
ax.plot(*gsc_xy, 's', ms=6, mfc='white', mec='#0000ff', mew=1.2, zorder=6)

# leader lines for the labelled stars
ax.plot([1.17, 2.68], [-5.65, -5.53], color='black', lw=1.5, zorder=7)
ax.plot([-0.84, -0.21], [-5.68, -6.71], color='black', lw=1.5, zorder=7)
ax.plot([-1.96, -1.37], [-6.88, -8.99], color='black', lw=1.5, zorder=7)

ax.text(-13.26, 7.49, 'IC 2944/2948', fontsize=19.5, fontweight='bold', style='italic',
        ha='left', va='center', zorder=8)
ax.text(-5.35, 2.05, '"a" + "b"', family='Liberation Serif', fontsize=20, fontweight='bold',
        style='italic', ha='center', va='baseline', zorder=8)
ax.text(-0.12, -4.84, '"c"', family='Liberation Serif', fontsize=20, fontweight='bold',
        style='italic', ha='center', va='baseline', zorder=8)

ax.text(2.72, -5.22, 'CPD -62 2198', fontsize=12, fontweight='bold', ha='left', va='center', zorder=8)
ax.text(2.72, -6.25, 'O9Ib', fontsize=12, ha='left', va='center', zorder=8)
ax.text(-0.80, -7.42, 'GSC08976-01571', fontsize=12, fontweight='bold', ha='left', va='center', zorder=8)
ax.text(-0.80, -8.39, 'O9.5Ve', fontsize=12, ha='left', va='center', zorder=8)
ax.text(-1.27, -9.65, 'HD 101436', fontsize=12, fontweight='bold', ha='center', va='center', zorder=8)
ax.text(-1.27, -10.63, 'O6.5V+O7V', fontsize=12, ha='center', va='center', zorder=8)

ax.set_xlim(-15, 10)
ax.set_ylim(-15, 10)
ax.xaxis.set_major_locator(MultipleLocator(5))
ax.xaxis.set_minor_locator(MultipleLocator(1))
ax.yaxis.set_major_locator(MultipleLocator(5))
ax.yaxis.set_minor_locator(MultipleLocator(1))
ax.tick_params(which='both', direction='in', top=True, right=True, color='#555555', labelsize=12)
ax.tick_params(which='major', length=6, width=1)
ax.tick_params(which='minor', length=3, width=0.8)
for s in ax.spines.values():
    s.set_color('#555555')
    s.set_linewidth(1)

ax.set_xlabel(r'$\mu_\alpha$ cos($\delta$) [mas/yr]', fontsize=14.5, style='italic', labelpad=10)
ax.set_ylabel(r'$\mu_\delta$ [mas/yr]', fontsize=14.5, style='italic', labelpad=14)

fig.savefig('out.png', dpi=100)
